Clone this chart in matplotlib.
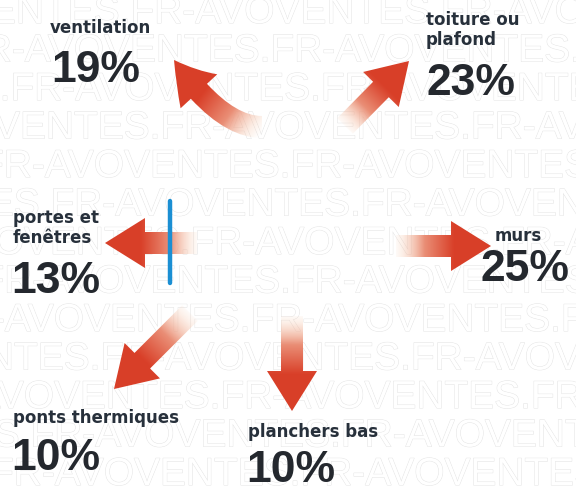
import numpy as np
import matplotlib
matplotlib.use('Agg')
import matplotlib.pyplot as plt
from matplotlib.patches import FancyArrowPatch
import matplotlib.patheffects as pe

# data: share of heat loss per part of the house
labels = [['ventilation'], ['toiture ou', 'plafond'], ['portes et', 'fenêtres'],
          ['murs'], ['ponts thermiques'], ['planchers bas']]
values = [19, 23, 13, 25, 10, 10]

# layout (pixel coords, y down): label baseline, percent baseline, arrow tail/tip, path style
label_pos = [(50, 33), (426, 25), (13, 223), (495, 241), (13, 423), (248, 437)]
pct_pos = [(51, 82), (426, 95), (11, 293), (481, 281), (11, 470), (246, 482)]
tails = [(262, 127), (345, 126), (197, 243), (396, 246), (190, 313), (292, 316)]
tips = [(174, 60), (409, 61), (105, 243), (491, 246), (114, 389), (292, 411)]
paths = ['angle3,angleA=0,angleB=125'] + ['arc3,rad=0'] * 5

W, H = 576, 491
fig = plt.figure(figsize=(W / 100, H / 100), dpi=100)
ax = fig.add_axes([0, 0, 1, 1])
ax.set_xlim(0, W)
ax.set_ylim(H, 0)
ax.axis('off')

# faint watermark rows
wm = 'FR-AVOVENTES.' * 6
phases = [-180, -40, -300, -150, -20, -260, -120, -330, -60, -210, -90, -280, -10]
for i, ph in enumerate(phases):
    ax.text(ph, 23 + 38.5 * i, wm, fontsize=28, family='Liberation Sans',
            color='white', va='baseline', ha='left', zorder=1,
            path_effects=[pe.Stroke(linewidth=0.7, foreground='#e4e4e4'), pe.Normal()])

tip_col = np.array([0.85, 0.25, 0.16])
tail_col = np.array([0.97, 0.80, 0.70])

for tail, tip, cs in zip(tails, tips, paths):
    arr = FancyArrowPatch(tail, tip, connectionstyle=cs,
                          arrowstyle='simple,head_length=40,head_width=50,tail_width=22',
                          mutation_scale=0.72, shrinkA=0, shrinkB=0,
                          facecolor='none', edgecolor='none', zorder=3)
    ax.add_patch(arr)
    x0, x1 = min(tail[0], tip[0]) - 40, max(tail[0], tip[0]) + 40
    y0, y1 = min(tail[1], tip[1]) - 40, max(tail[1], tip[1]) + 40
    xs = np.linspace(x0, x1, 200)
    ys = np.linspace(y0, y1, 200)
    gx, gy = np.meshgrid(xs, ys)
    d = np.array(tip, float) - np.array(tail, float)
    t = ((gx - tail[0]) * d[0] + (gy - tail[1]) * d[1]) / (d @ d)
    s = np.clip(t * 1.8 - 0.1, 0, 1)
    rgba = np.zeros(gx.shape + (4,))
    rgba[..., :3] = tail_col + (tip_col - tail_col) * s[..., None]
    rgba[..., 3] = np.clip(t * 3.0 + 0.1, 0, 1)
    im = ax.imshow(rgba, extent=(x0, x1, y0, y1), origin='lower',
                   aspect='auto', zorder=3, interpolation='bilinear')
    im.set_clip_path(arr)

# window pane
ax.plot([170, 170], [201, 283], color='#1b8fd3', lw=3.2, solid_capstyle='round', zorder=4)

for lines, v, (x, y), (px, py) in zip(labels, values, label_pos, pct_pos):
    for k, line in enumerate(lines):
        ax.text(x, y + 20 * k, line, fontsize=12, fontweight='bold',
                family='DejaVu Sans', color='#27303b', ha='left', va='baseline', zorder=5)
    ax.text(px, py, '%d%%' % v, fontsize=32, fontweight='bold',
            family='Liberation Sans', color='#24282e', ha='left', va='baseline', zorder=5)

ax.set_xlim(0, W)
ax.set_ylim(H, 0)
fig.savefig('out.png', dpi=100, facecolor='white')
